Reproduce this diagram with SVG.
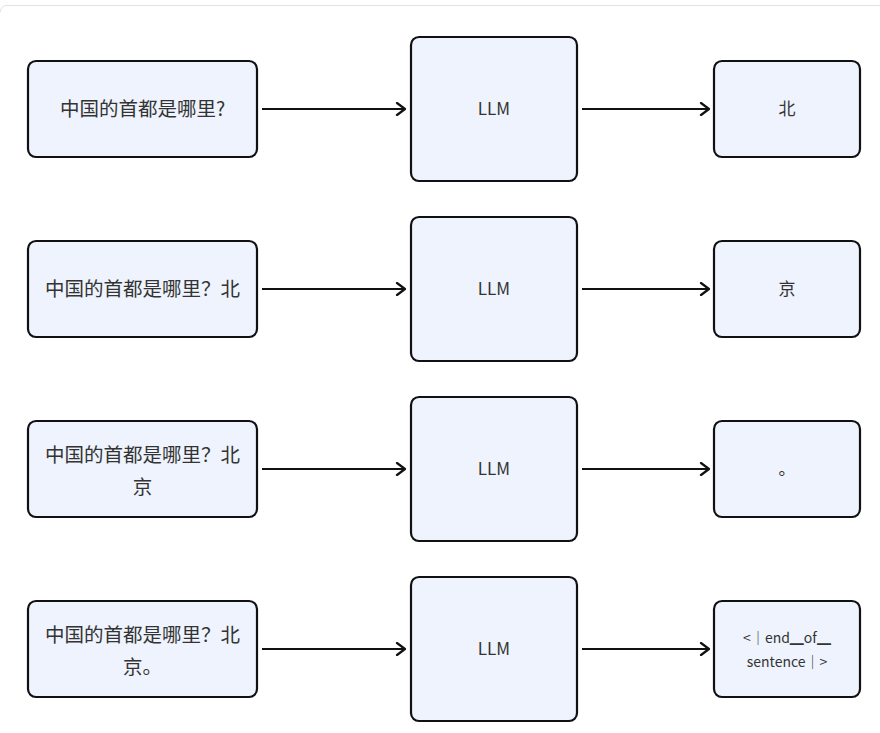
<svg xmlns="http://www.w3.org/2000/svg" width="880" height="733" viewBox="0 0 880 733">
<defs>
<style>
.box{fill:#eef3fd;stroke:#111;stroke-width:2.2}
.t{font-family:"Noto Sans CJK SC","Noto Sans",sans-serif;font-size:17px;fill:#333;text-anchor:middle}
.q{font-size:19.5px}
.s{font-size:14px}
.c{stroke:#111;stroke-width:2.2;fill:none}
</style>
<marker id="ah" viewBox="0 0 12 14" refX="10" refY="7" markerWidth="12" markerHeight="14" markerUnits="userSpaceOnUse" orient="auto">
<path d="M2,1 L10,7 L2,13" fill="none" stroke="#111" stroke-width="2.2" stroke-linecap="round" stroke-linejoin="round"/>
</marker>
</defs>
<rect x="0" y="0" width="880" height="733" fill="#fff"/>
<path d="M0.5,12 Q0.5,5.5 7,5.5 L880,5.5" fill="none" stroke="#e2e2e2" stroke-width="1"/>
<g id="connectors">
<line class="c" x1="262" y1="109" x2="405" y2="109" marker-end="url(#ah)"/>
<line class="c" x1="582" y1="109" x2="709" y2="109" marker-end="url(#ah)"/>
<line class="c" x1="262" y1="289" x2="405" y2="289" marker-end="url(#ah)"/>
<line class="c" x1="582" y1="289" x2="709" y2="289" marker-end="url(#ah)"/>
<line class="c" x1="262" y1="469" x2="405" y2="469" marker-end="url(#ah)"/>
<line class="c" x1="582" y1="469" x2="709" y2="469" marker-end="url(#ah)"/>
<line class="c" x1="262" y1="649" x2="405" y2="649" marker-end="url(#ah)"/>
<line class="c" x1="582" y1="649" x2="709" y2="649" marker-end="url(#ah)"/>
</g>
<g id="q1"><rect class="box" x="28" y="61" width="229" height="96" rx="8"/><text class="t q" x="142.5" y="116">中国的首都是哪里?</text></g>
<g id="llm1"><rect class="box" x="411" y="37" width="166" height="144" rx="8"/><text class="t" x="494" y="115">LLM</text></g>
<g id="o1"><rect class="box" x="714" y="61" width="146" height="96" rx="8"/><text class="t" x="787" y="115">北</text></g>
<g id="q2"><rect class="box" x="28" y="241" width="229" height="96" rx="8"/><text class="t q" x="142.5" y="296">中国的首都是哪里？北</text></g>
<g id="llm2"><rect class="box" x="411" y="217" width="166" height="144" rx="8"/><text class="t" x="494" y="295">LLM</text></g>
<g id="o2"><rect class="box" x="714" y="241" width="146" height="96" rx="8"/><text class="t" x="787" y="295">京</text></g>
<g id="q3"><rect class="box" x="28" y="421" width="229" height="96" rx="8"/><text class="t q" x="142.5" y="462">中国的首都是哪里？北</text><text class="t q" x="142.5" y="494">京</text></g>
<g id="llm3"><rect class="box" x="411" y="397" width="166" height="144" rx="8"/><text class="t" x="494" y="475">LLM</text></g>
<g id="o3"><rect class="box" x="714" y="421" width="146" height="96" rx="8"/><text class="t" x="787" y="475">。</text></g>
<g id="q4"><rect class="box" x="28" y="601" width="229" height="96" rx="8"/><text class="t q" x="142.5" y="642">中国的首都是哪里？北</text><text class="t q" x="142.5" y="674">京。</text></g>
<g id="llm4"><rect class="box" x="411" y="577" width="166" height="144" rx="8"/><text class="t" x="494" y="655">LLM</text></g>
<g id="o4"><rect class="box" x="714" y="601" width="146" height="96" rx="8"/><text class="t s" x="787" y="643">&lt;｜end▁of▁</text><text class="t s" x="787" y="667">sentence｜&gt;</text></g>
</svg>
